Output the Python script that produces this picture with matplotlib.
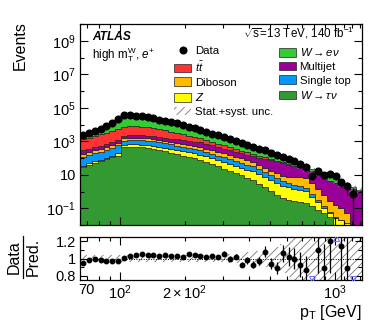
import numpy as np
import matplotlib
matplotlib.use('Agg')
import matplotlib.pyplot as plt
from matplotlib.patches import Patch
from matplotlib.lines import Line2D
from matplotlib.ticker import FixedLocator, FixedFormatter, NullFormatter

plt.rcParams['font.family'] = ['Liberation Sans', 'DejaVu Sans']
plt.rcParams['mathtext.fontset'] = 'custom'
plt.rcParams['mathtext.rm'] = 'Liberation Sans'
plt.rcParams['mathtext.it'] = 'Liberation Sans:italic'
plt.rcParams['mathtext.bf'] = 'Liberation Sans:bold'
plt.rcParams['mathtext.sf'] = 'Liberation Sans'
plt.rcParams['hatch.linewidth'] = 0.6

# ---------------- data ----------------
bin_edges = [65.2, 69.4, 73.9, 78.7, 83.9, 89.3, 95.1, 101.3, 107.8, 114.8, 122.3,
             130.2, 138.7, 147.7, 157.3, 167.5, 178.3, 189.9, 202.2, 215.3, 229.3,
             244.2, 260.0, 276.9, 294.9, 314.0, 334.4, 356.1, 379.2, 403.8, 430.0,
             457.9, 487.6, 519.3, 553.0, 588.9, 627.1, 667.8, 711.2, 757.3, 806.5,
             858.8, 914.5, 973.9, 1037, 1104, 1176, 1252, 1334]

w_taunu = [30, 40, 50, 63, 85, 112, 141, 437, 468, 457, 437, 398, 355, 295, 245, 204,
           170, 138, 115, 95, 79, 59, 43, 32, 23, 17, 12.6, 9.3, 6.8, 5.0, 3.0, 1.8,
           1.1, 0.66, 0.40, 0.33, 0.28, 0.23, 0.20, 0.13, 0.079, 0.050, 0.032, 0, 0, 0, 0, 0]
z_jets = [5.3, 8.1, 13, 16, 22, 29, 58, 166, 178, 189, 180, 177, 170, 162, 144, 135,
          119, 113, 99, 91, 79, 64, 53, 42, 34, 28, 21, 17, 13.6, 10.8, 7.7, 5.4,
          3.8, 2.65, 1.84, 1.49, 1.23, 1.0, 0.80, 0.34, 0.145, 0.055, 0.018, 0.025, 0.020, 0.0126, 0.003, 0]
single_top = [85, 104, 127, 160, 202, 257, 363, 493, 529, 529, 505, 497, 475, 414, 352, 307,
              261, 227, 194, 169, 144, 111, 87, 67, 52, 42, 34, 26, 20, 15.8, 10.2, 6.6,
              4.2, 2.7, 1.74, 1.34, 1.0, 0.77, 0.59, 0.24, 0.092, 0.036, 0.013, 0.0066, 0, 0, 0, 0]
diboson = [62, 78, 98, 115, 148, 177, 232, 418, 447, 447, 463, 442, 413, 359, 331, 288,
           263, 229, 195, 170, 155, 129, 106, 93, 77, 61, 50, 43, 35, 28.7, 18.9, 13.1,
           8.7, 6.0, 3.96, 4.43, 4.9, 5.1, 5.2, 2.3, 1.03, 0.46, 0.21, 0.127, 0.08, 0.037, 0.001, 0]
multijet = [113, 134, 158, 195, 235, 276, 354, 575, 617, 669, 654, 624, 582, 548, 550, 512,
            505, 467, 444, 430, 394, 329, 274, 212, 177, 147, 122, 95, 79, 66, 65, 62,
            56, 51, 44.6, 32.2, 25.7, 20.4, 16.1, 12.8, 8.65, 6.0, 4.0, 3.0, 2.41, 1.95, 1.41, 1.0]
ttbar = [993, 1297, 1642, 2081, 2619, 3318, 4100, 5497, 5704, 5652, 5347, 4941, 4315, 3470, 2845, 2270,
         1772, 1395, 1141, 865, 663, 483, 371, 278, 199, 152, 107, 79, 59, 40, 30, 20.5,
         13, 7.7, 5.0, 2.9, 2.4, 2.0, 1.6, 0.8, 0.5, 0.31, 0.2, 0.08, 0, 0, 0, 0]
w_enu = [1111, 1576, 1892, 2993, 4817, 7580, 17139, 27895, 26731, 24416, 21254, 18040, 15568, 13807, 11382, 9775,
         8130, 6550, 5056, 3934, 3163, 2456, 1885, 1515, 1176, 933, 700, 582, 432, 347, 237, 153,
         137, 95, 47, 38.6, 27.6, 15.2, 7.1, 6.3, 4.6, 4.3, 4.4, 2.4, 0.73, 0.4, 0.37, 0.26]

data = [2239, 3162, 3981, 5495, 7943, 11482, 21878, 35481, 35481, 33884, 30200, 26303, 22909, 19498, 16596, 13804,
        11482, 9333, 7586, 6026, 4786, 3715, 2884, 2291, 1820, 1380, 1072, 794, 631, 479, 363, 282,
        209, 148, 110, 83, 63, 42, 28, 8.1, 16.6, 10, 10.7, 8.9, 3.7, 2.1, 0.7, np.nan]
ratio = [0.943, 0.98, 0.99, 0.98, 0.97, 0.97, 0.975, 1.01, 1.03, 1.045, 1.057, 1.045, 1.045, 1.03, 1.04, 1.03,
         1.03, 1.02, 1.057, 1.04, 1.03, 1.02, 1.03, 1.02, 1.057, 1.0, 1.02, 0.93, 0.98, 0.93, 0.97, 1.08,
         0.94, 0.89, 1.06, 1.02, 1.0, 0.93, 0.87, 0.35, 1.1, 0.89, 1.2, 1.58, 1.14, 0.89, 0.39, np.nan]
rel_unc = [0.04, 0.04, 0.04, 0.04, 0.04, 0.04, 0.04, 0.04, 0.04, 0.04, 0.04, 0.04, 0.04, 0.04, 0.04, 0.04,
           0.04, 0.04, 0.04, 0.04, 0.04, 0.04, 0.04, 0.04, 0.04, 0.05, 0.05, 0.06, 0.07, 0.08, 0.09, 0.10,
           0.11, 0.13, 0.17, 0.22, 0.30, 0.50, 0.60, 0.60, 0.50, 0.50, 0.50, 0.50, 0.50, 0.60, 0.60, 0.60]

stack_names = [r'$W\rightarrow\tau\nu$', r'$Z$', 'Single top', 'Diboson', 'Multijet', r'$t\bar{t}$', r'$W\rightarrow e\nu$']
stack_values = [w_taunu, z_jets, single_top, diboson, multijet, ttbar, w_enu]
stack_colors = ['#339933', '#ffff00', '#0099ff', '#ffbb00', '#990099', '#ff3333', '#33cc33']

# ---------------- figure ----------------
W, H = 382, 323
fig = plt.figure(figsize=(W / 100, H / 100), dpi=100)
ax = fig.add_axes([80 / W, 1 - 225 / H, 282 / W, 201 / H])
axr = fig.add_axes([80 / W, 1 - 280 / H, 282 / W, 43 / H])

edges = np.array(bin_edges)
centers = np.sqrt(edges[:-1] * edges[1:])
base = np.full(len(centers), 1e-4)
for vals, col in zip(stack_values, stack_colors):
    top = base + np.array(vals, dtype=float)
    ax.stairs(top, edges, baseline=base, fill=True, facecolor=col,
              edgecolor='#222222', linewidth=0.5)
    base = top
total = base
unc = np.array(rel_unc)
ax.stairs(total * (1 + unc), edges, baseline=total * (1 - unc), fill=True,
          facecolor='none', edgecolor='#777777', linewidth=0, hatch='////')

d = np.array(data, dtype=float)
err = np.sqrt(d)
lo = np.minimum(err, d - 1e-3)
ax.errorbar(centers, d, yerr=[lo, err], fmt='o', color='black', ms=4.8,
            elinewidth=0.9, capsize=0, zorder=5)

for a in (ax, axr):
    a.set_xscale('log')
    a.set_xlim(edges[0], edges[-1])
ax.set_yscale('log')
ax.set_ylim(1e-2, 1e10)

ax.yaxis.set_major_locator(FixedLocator([1e-1, 1e1, 1e3, 1e5, 1e7, 1e9]))
ax.yaxis.set_major_formatter(FixedFormatter([r'$10^{-1}$', '10', r'$10^{3}$', r'$10^{5}$', r'$10^{7}$', r'$10^{9}$']))
ax.yaxis.set_minor_locator(FixedLocator([1e-2, 1, 1e2, 1e4, 1e6, 1e8, 1e10]))
ax.yaxis.set_minor_formatter(NullFormatter())

xmaj = [100, 1000]
xmin = [70, 80, 90, 200, 300, 400, 500, 600, 700, 800, 900, 1100, 1200, 1300]
xmin_lab = ['70', '', '', r'$2\times10^{2}$', '', '', '', '', '', '', '', '', '', '']
for a in (ax, axr):
    a.xaxis.set_major_locator(FixedLocator(xmaj))
    a.xaxis.set_minor_locator(FixedLocator(xmin))
    a.tick_params(which='both', direction='in', top=True, right=True, width=0.8)
    a.tick_params(which='major', length=6, labelsize=10.5)
    a.tick_params(which='minor', length=3)
    for s in a.spines.values():
        s.set_linewidth(0.9)
ax.xaxis.set_major_formatter(NullFormatter())
ax.xaxis.set_minor_formatter(NullFormatter())
axr.xaxis.set_major_formatter(FixedFormatter([r'$10^{2}$', r'$10^{3}$']))
axr.xaxis.set_minor_formatter(FixedFormatter(xmin_lab))
axr.tick_params(axis='x', which='both', pad=2.5, labelsize=10.5)
ax.tick_params(axis='y', pad=3)

# ratio panel
axr.stairs(1 + unc, edges, baseline=1 - unc, fill=True, facecolor='none',
           edgecolor='#777777', linewidth=0, hatch='////')
axr.axhline(1.0, color='black', lw=0.7, ls=(0, (1, 1.5)))
r = np.array(ratio, dtype=float)
rerr = r / np.sqrt(d)
ylo, yhi = 0.75, 1.25
inside = (r > ylo) & (r < yhi)
axr.errorbar(centers[inside], r[inside], yerr=rerr[inside], fmt='o', color='black',
             ms=3.2, elinewidth=0.9, capsize=0, zorder=5)
below = r <= ylo
above = r >= yhi
axr.plot(centers[below], np.full(below.sum(), 0.765), ls='none', marker='v', ms=4,
         mfc='none', mec='#7777ff', mew=0.8, zorder=6)
axr.plot(centers[above], np.full(above.sum(), 1.235), ls='none', marker='^', ms=4,
         mfc='none', mec='#7777ff', mew=0.8, zorder=6)
axr.set_ylim(ylo, yhi)
axr.yaxis.set_major_locator(FixedLocator([0.8, 1.0, 1.2]))
axr.yaxis.set_major_formatter(FixedFormatter(['0.8', '1', '1.2']))
axr.yaxis.set_minor_locator(FixedLocator([0.9, 1.1]))
axr.tick_params(axis='y', which='major', length=5, pad=3)

# labels
fig.text(20 / W, 1 - 21 / H, 'Events', rotation=90, ha='center', va='top', fontsize=11.5)
fig.text(14 / W, 1 - 257 / H, 'Data', rotation=90, ha='center', va='center', fontsize=11.5)
fig.text(33 / W, 1 - 257 / H, 'Pred.', rotation=90, ha='center', va='center', fontsize=11.5)
fig.add_artist(Line2D([22.5 / W, 22.5 / W], [1 - 236 / H, 1 - 278 / H], color='black', lw=0.9))
fig.text(362 / W, 1 - 317 / H, r'p$_{\rm T}$ [GeV]', ha='right', va='baseline', fontsize=11.5)

ax.text(0.043, 0.933, 'ATLAS', transform=ax.transAxes, fontsize=8.6,
        fontweight='bold', fontstyle='italic', va='center', ha='left')
ax.text(0.043, 0.826, r'high m$_{\rm T}^{\rm W}$, $e^{+}$', transform=ax.transAxes,
        fontsize=8.4, va='baseline', ha='left')
ax.text(0.972, 0.935, r'$\sqrt{\rm s}$=13 TeV, 140 fb$^{-1}$', transform=ax.transAxes,
        fontsize=8.4, va='baseline', ha='right')

# legend
h_data = Line2D([], [], ls='none', marker='o', color='black', ms=4.8)
def box(c):
    return Patch(facecolor=c, edgecolor='#222222', linewidth=0.5)
h_unc = Patch(facecolor='none', edgecolor='#777777', linewidth=0, hatch='////')
col_of = dict(zip(stack_names, stack_colors))
leg1 = ax.legend([h_data, box(col_of[r'$t\bar{t}$']), box(col_of['Diboson']), box(col_of[r'$Z$']), h_unc],
                 ['Data', r'$t\bar{t}$', 'Diboson', r'$Z$', 'Stat.+syst. unc.'],
                 loc='upper left', bbox_to_anchor=(0.335, 0.89), frameon=False, fontsize=8.2,
                 handlelength=1.45, handleheight=0.8, labelspacing=0.3, handletextpad=0.35,
                 borderpad=0, borderaxespad=0)
ax.add_artist(leg1)
ax.legend([box(col_of[r'$W\rightarrow e\nu$']), box(col_of['Multijet']), box(col_of['Single top']),
           box(col_of[r'$W\rightarrow\tau\nu$'])],
          [r'$W\rightarrow e\nu$', 'Multijet', 'Single top', r'$W\rightarrow\tau\nu$'],
          loc='upper left', bbox_to_anchor=(0.706, 0.89), frameon=False, fontsize=8.2,
          handlelength=1.45, handleheight=0.8, labelspacing=0.3, handletextpad=0.35,
          borderpad=0, borderaxespad=0)

fig.savefig('out.png', dpi=100)
